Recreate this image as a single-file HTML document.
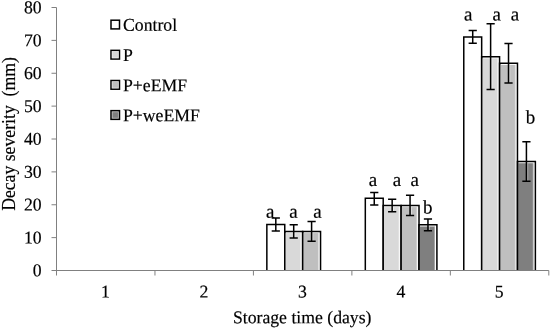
<!DOCTYPE html>
<html><head><meta charset="utf-8"><title>Decay severity chart</title>
<style>html,body{margin:0;padding:0;background:#fff;}svg{display:block;}text{font-family:"Liberation Serif","Times New Roman",serif;fill:#000;stroke:#000;stroke-width:0.18px;}</style></head><body>
<svg width="550" height="328" viewBox="0 0 550 328">
<rect width="550" height="328" fill="#fff"/>
<path d="M266.85 270.5V224.47H284.75V270.5" fill="none" stroke="#000" stroke-width="1.5"/>
<rect x="284.75" y="233.08" width="16.00" height="37.42" fill="#d9d9d9"/>
<rect x="300.05" y="233.08" width="0.7" height="37.42" fill="#fff" fill-opacity="0.45"/>
<rect x="294.45" y="233.08" width="1" height="4.88" fill="#fff" fill-opacity="0.5"/>
<path d="M284.75 270.5V231.38H302.65V270.5" fill="none" stroke="#000" stroke-width="1.5"/>
<rect x="302.65" y="233.08" width="16.00" height="37.42" fill="#bfbfbf"/>
<rect x="317.95" y="233.08" width="0.7" height="37.42" fill="#fff" fill-opacity="0.45"/>
<rect x="312.35" y="233.08" width="1" height="8.16" fill="#fff" fill-opacity="0.5"/>
<path d="M302.65 270.5V231.38H320.55V270.5" fill="none" stroke="#000" stroke-width="1.5"/>
<path d="M365.31 270.5V198.18H383.21V270.5" fill="none" stroke="#000" stroke-width="1.5"/>
<rect x="383.21" y="207.11" width="16.00" height="63.39" fill="#d9d9d9"/>
<rect x="398.51" y="207.11" width="0.7" height="63.39" fill="#fff" fill-opacity="0.45"/>
<rect x="392.91" y="207.11" width="1" height="4.55" fill="#fff" fill-opacity="0.5"/>
<path d="M383.21 270.5V205.41H401.11V270.5" fill="none" stroke="#000" stroke-width="1.5"/>
<rect x="401.11" y="207.11" width="16.00" height="63.39" fill="#bfbfbf"/>
<rect x="416.41" y="207.11" width="0.7" height="63.39" fill="#fff" fill-opacity="0.45"/>
<rect x="410.81" y="207.11" width="1" height="8.49" fill="#fff" fill-opacity="0.5"/>
<path d="M401.11 270.5V205.41H419.01V270.5" fill="none" stroke="#000" stroke-width="1.5"/>
<rect x="419.01" y="226.50" width="16.00" height="44.00" fill="#7f7f7f"/>
<rect x="434.31" y="226.50" width="0.7" height="44.00" fill="#fff" fill-opacity="0.45"/>
<rect x="428.71" y="226.50" width="1" height="4.22" fill="#fff" fill-opacity="0.5"/>
<path d="M419.01 270.5V224.80H436.91V270.5" fill="none" stroke="#000" stroke-width="1.5"/>
<path d="M463.77 270.5V37.09H481.67V270.5" fill="none" stroke="#000" stroke-width="1.5"/>
<rect x="481.67" y="58.35" width="16.00" height="212.15" fill="#d9d9d9"/>
<rect x="496.97" y="58.35" width="0.7" height="212.15" fill="#fff" fill-opacity="0.45"/>
<rect x="491.37" y="58.35" width="1" height="31.18" fill="#fff" fill-opacity="0.5"/>
<path d="M481.67 270.5V56.65H499.57V270.5" fill="none" stroke="#000" stroke-width="1.5"/>
<rect x="499.57" y="64.92" width="16.00" height="205.58" fill="#bfbfbf"/>
<rect x="514.87" y="64.92" width="0.7" height="205.58" fill="#fff" fill-opacity="0.45"/>
<rect x="509.27" y="64.92" width="1" height="18.02" fill="#fff" fill-opacity="0.5"/>
<path d="M499.57 270.5V63.22H517.47V270.5" fill="none" stroke="#000" stroke-width="1.5"/>
<rect x="517.47" y="163.22" width="16.00" height="107.28" fill="#7f7f7f"/>
<rect x="532.77" y="163.22" width="0.7" height="107.28" fill="#fff" fill-opacity="0.45"/>
<rect x="527.17" y="163.22" width="1" height="18.02" fill="#fff" fill-opacity="0.5"/>
<path d="M517.47 270.5V161.52H535.37V270.5" fill="none" stroke="#000" stroke-width="1.5"/>
<path d="M275.80 217.90V231.05M271.70 217.90H279.90M271.70 231.05H279.90" stroke="#000" stroke-width="1.5" fill="none"/>
<path d="M293.70 224.80V237.95M289.60 224.80H297.80M289.60 237.95H297.80" stroke="#000" stroke-width="1.5" fill="none"/>
<path d="M311.60 221.52V241.24M307.50 221.52H315.70M307.50 241.24H315.70" stroke="#000" stroke-width="1.5" fill="none"/>
<path d="M374.26 192.42V204.91M370.16 192.42H378.36M370.16 204.91H378.36" stroke="#000" stroke-width="1.5" fill="none"/>
<path d="M392.16 199.16V211.65M388.06 199.16H396.26M388.06 211.65H396.26" stroke="#000" stroke-width="1.5" fill="none"/>
<path d="M410.06 195.22V215.60M405.96 195.22H414.16M405.96 215.60H414.16" stroke="#000" stroke-width="1.5" fill="none"/>
<path d="M427.96 218.89V230.72M423.86 218.89H432.06M423.86 230.72H432.06" stroke="#000" stroke-width="1.5" fill="none"/>
<path d="M472.72 30.51V43.33M468.62 30.51H476.82M468.62 43.33H476.82" stroke="#000" stroke-width="1.5" fill="none"/>
<path d="M490.62 23.77V89.52M486.52 23.77H494.72M486.52 89.52H494.72" stroke="#000" stroke-width="1.5" fill="none"/>
<path d="M508.52 43.50V82.95M504.42 43.50H512.62M504.42 82.95H512.62" stroke="#000" stroke-width="1.5" fill="none"/>
<path d="M526.42 141.79V181.24M522.32 141.79H530.52M522.32 181.24H530.52" stroke="#000" stroke-width="1.5" fill="none"/>
<path d="M56.5 7.5V275.5M51.5 270.5H548.8" stroke="#808080" stroke-width="1" fill="none"/>
<path d="M51.5 237.62H56.5" stroke="#808080" stroke-width="1"/>
<path d="M51.5 204.75H56.5" stroke="#808080" stroke-width="1"/>
<path d="M51.5 171.88H56.5" stroke="#808080" stroke-width="1"/>
<path d="M51.5 139.00H56.5" stroke="#808080" stroke-width="1"/>
<path d="M51.5 106.12H56.5" stroke="#808080" stroke-width="1"/>
<path d="M51.5 73.25H56.5" stroke="#808080" stroke-width="1"/>
<path d="M51.5 40.38H56.5" stroke="#808080" stroke-width="1"/>
<path d="M51.5 7.50H56.5" stroke="#808080" stroke-width="1"/>
<path d="M154.96 270.5V275.5" stroke="#808080" stroke-width="1"/>
<path d="M253.42 270.5V275.5" stroke="#808080" stroke-width="1"/>
<path d="M351.88 270.5V275.5" stroke="#808080" stroke-width="1"/>
<path d="M450.34 270.5V275.5" stroke="#808080" stroke-width="1"/>
<path d="M548.80 270.5V275.5" stroke="#808080" stroke-width="1"/>
<text transform="translate(41.70 276.30) rotate(0.03) scale(0.9852 1)" font-size="17.97" text-anchor="end">0</text>
<text transform="translate(41.70 243.43) rotate(0.03) scale(0.9852 1)" font-size="17.97" text-anchor="end">10</text>
<text transform="translate(41.70 210.55) rotate(0.03) scale(0.9852 1)" font-size="17.97" text-anchor="end">20</text>
<text transform="translate(41.70 177.68) rotate(0.03) scale(0.9852 1)" font-size="17.97" text-anchor="end">30</text>
<text transform="translate(41.70 144.80) rotate(0.03) scale(0.9852 1)" font-size="17.97" text-anchor="end">40</text>
<text transform="translate(41.70 111.92) rotate(0.03) scale(0.9852 1)" font-size="17.97" text-anchor="end">50</text>
<text transform="translate(41.70 79.05) rotate(0.03) scale(0.9852 1)" font-size="17.97" text-anchor="end">60</text>
<text transform="translate(41.70 46.17) rotate(0.03) scale(0.9852 1)" font-size="17.97" text-anchor="end">70</text>
<text transform="translate(41.70 13.30) rotate(0.03) scale(0.9852 1)" font-size="17.97" text-anchor="end">80</text>
<text transform="translate(105.43 297.60) rotate(0.03) scale(0.9852 1)" font-size="17.97" text-anchor="middle">1</text>
<text transform="translate(203.89 297.60) rotate(0.03) scale(0.9852 1)" font-size="17.97" text-anchor="middle">2</text>
<text transform="translate(302.35 297.60) rotate(0.03) scale(0.9852 1)" font-size="17.97" text-anchor="middle">3</text>
<text transform="translate(400.81 297.60) rotate(0.03) scale(0.9852 1)" font-size="17.97" text-anchor="middle">4</text>
<text transform="translate(499.27 297.60) rotate(0.03) scale(0.9852 1)" font-size="17.97" text-anchor="middle">5</text>
<text transform="translate(302.20 323.25) rotate(0.03) scale(0.9852 1)" font-size="17.97" text-anchor="middle">Storage time (days)</text>
<text transform="translate(14.65 134.0) rotate(-90) scale(1 1.035)" font-size="17.7" text-anchor="middle" xml:space="preserve">Decay severity  (mm)</text>
<rect x="111.0" y="20.20" width="8.5" height="8.7" fill="#ffffff" stroke="#000" stroke-width="1.5"/>
<text transform="translate(123.00 30.85) rotate(0.03) scale(0.9852 1)" font-size="17.97" text-anchor="start">Control</text>
<rect x="111.0" y="50.35" width="8.5" height="8.7" fill="#d9d9d9" stroke="#000" stroke-width="1.5"/>
<rect x="112.15" y="51.50" width="6.20" height="6.40" fill="none" stroke="#fff" stroke-opacity="0.55" stroke-width="0.8"/>
<text transform="translate(123.00 61.00) rotate(0.03) scale(0.9852 1)" font-size="17.97" text-anchor="start">P</text>
<rect x="111.0" y="80.50" width="8.5" height="8.7" fill="#bfbfbf" stroke="#000" stroke-width="1.5"/>
<rect x="112.15" y="81.65" width="6.20" height="6.40" fill="none" stroke="#fff" stroke-opacity="0.55" stroke-width="0.8"/>
<text transform="translate(123.00 91.15) rotate(0.03) scale(0.9852 1)" font-size="17.97" text-anchor="start">P+eEMF</text>
<rect x="111.0" y="110.65" width="8.5" height="8.7" fill="#7f7f7f" stroke="#000" stroke-width="1.5"/>
<rect x="112.15" y="111.80" width="6.20" height="6.40" fill="none" stroke="#fff" stroke-opacity="0.55" stroke-width="0.8"/>
<text transform="translate(123.00 121.30) rotate(0.03) scale(0.9852 1)" font-size="17.97" text-anchor="start">P+weEMF</text>
<text transform="translate(270.20 217.70) rotate(0.03) scale(0.9852 1)" font-size="19.28" text-anchor="middle">a</text>
<text transform="translate(293.40 217.70) rotate(0.03) scale(0.9852 1)" font-size="19.28" text-anchor="middle">a</text>
<text transform="translate(317.40 217.70) rotate(0.03) scale(0.9852 1)" font-size="19.28" text-anchor="middle">a</text>
<text transform="translate(373.00 186.10) rotate(0.03) scale(0.9852 1)" font-size="19.28" text-anchor="middle">a</text>
<text transform="translate(396.90 186.10) rotate(0.03) scale(0.9852 1)" font-size="19.28" text-anchor="middle">a</text>
<text transform="translate(414.70 186.10) rotate(0.03) scale(0.9852 1)" font-size="19.28" text-anchor="middle">a</text>
<text transform="translate(427.80 213.60) rotate(0.03) scale(0.9852 1)" font-size="19.28" text-anchor="middle">b</text>
<text transform="translate(468.30 20.60) rotate(0.03) scale(0.9852 1)" font-size="19.28" text-anchor="middle">a</text>
<text transform="translate(496.60 20.60) rotate(0.03) scale(0.9852 1)" font-size="19.28" text-anchor="middle">a</text>
<text transform="translate(514.90 20.60) rotate(0.03) scale(0.9852 1)" font-size="19.28" text-anchor="middle">a</text>
<text transform="translate(530.40 123.60) rotate(0.03) scale(0.9852 1)" font-size="19.28" text-anchor="middle">b</text>
</svg></body></html>
